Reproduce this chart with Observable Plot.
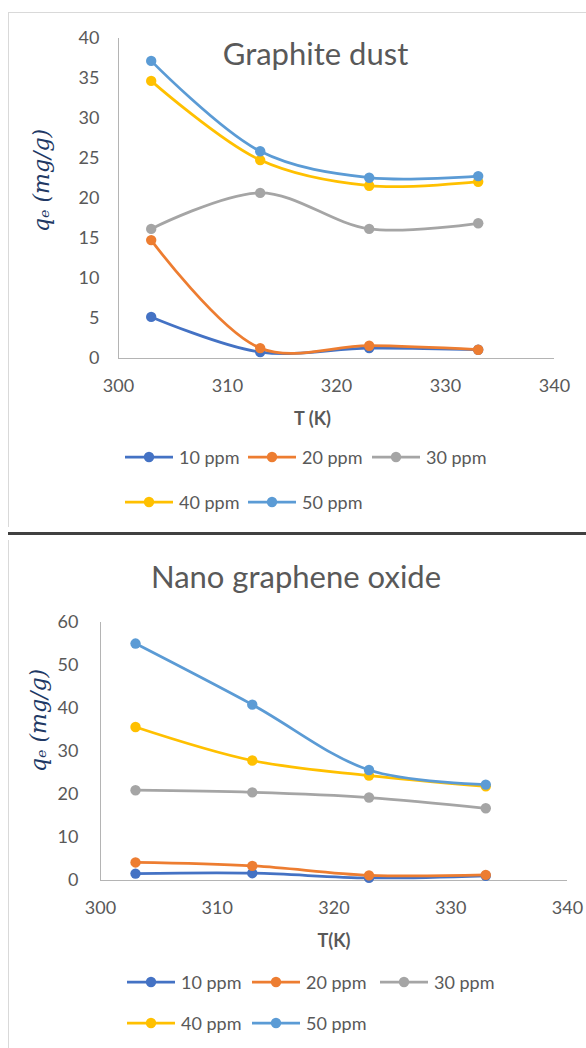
<!DOCTYPE html>
<html>
<head>
<meta charset="utf-8">
<script src="https://cdn.jsdelivr.net/npm/d3@7"></script>
<script src="https://cdn.jsdelivr.net/npm/@observablehq/plot@0.6"></script>
<style>
  html, body { margin: 0; padding: 0; background: #fff; }
  #page { position: relative; width: 586px; height: 1048px; overflow: hidden; background: #fff; font-family: Lato, "Open Sans", sans-serif; }
  .abs { position: absolute; }
  .legend-row { position: absolute; height: 24px; }
  .legend-item { position: absolute; top: 0; height: 24px; display: flex; align-items: center; white-space: nowrap; }
  .legend-item span { font-size: 18px; color: #595959; margin-left: 6px; }
</style>
</head>
<body>
<div id="page"></div>
<script>
// ---------------- data ----------------
const temps = [303, 313, 323, 333];
const seriesNames = ["10 ppm", "20 ppm", "30 ppm", "40 ppm", "50 ppm"];
const seriesColors = ["#4472C4", "#ED7D31", "#A5A5A5", "#FFC000", "#5B9BD5"];
const xTicks = [300, 310, 320, 330, 340];

// Graphite dust, q_e (mg/g)
const graphite10 = [5.2, 0.8, 1.3, 1.1];
const graphite20 = [14.8, 1.3, 1.6, 1.1];
const graphite30 = [16.2, 20.7, 16.2, 16.9];
const graphite40 = [34.7, 24.8, 21.6, 22.1];
const graphite50 = [37.2, 25.9, 22.6, 22.8];
const graphiteYTicks = [0, 5, 10, 15, 20, 25, 30, 35, 40];

// Nano graphene oxide, q_e (mg/g)
const nano10 = [1.6, 1.7, 0.6, 1.1];
const nano20 = [4.2, 3.4, 1.2, 1.3];
const nano30 = [21.0, 20.5, 19.3, 16.8];
const nano40 = [35.7, 27.9, 24.4, 21.9];
const nano50 = [55.1, 40.9, 25.7, 22.3];
const nanoYTicks = [0, 10, 20, 30, 40, 50, 60];

// ---------------- helpers ----------------
function toRows(seriesValues) {
  const rows = [];
  seriesValues.forEach((vals, si) => {
    vals.forEach((q, i) => rows.push({T: temps[i], q, series: seriesNames[si]}));
  });
  return rows;
}

const page = document.getElementById("page");
const AXIS = "#b4b4b4";
const TXT = "#595959";

function makeChart(cfg) {
  const rows = toRows(cfg.series);
  const marks = [
    Plot.ruleX([300], {stroke: AXIS, strokeWidth: 1}),
    Plot.ruleY([0], {stroke: AXIS, strokeWidth: 1}),
    Plot.axisX({ticks: xTicks, tickSize: 0, tickPadding: 21, fontSize: 18, color: TXT, label: null, tickFormat: d => String(d)}),
    Plot.axisY({ticks: cfg.yTicks, tickSize: 0, tickPadding: cfg.yPad, fontSize: 18, color: TXT, label: null, tickFormat: d => String(d)})
  ];
  seriesNames.forEach(name => {
    const sub = rows.filter(r => r.series === name);
    marks.push(Plot.line(sub, {x: "T", y: "q", stroke: "series", strokeWidth: 2.75, curve: "catmull-rom"}));
    marks.push(Plot.dot(sub, {x: "T", y: "q", fill: "series", r: 5.2}));
  });
  marks.push(Plot.text([cfg.title], {text: d => d, frameAnchor: "top", textAnchor: "middle", dx: cfg.titleDx, dy: cfg.titleDy, fontSize: 31, fill: TXT, lineAnchor: "middle"}));
  marks.push(Plot.text([cfg.xTitle], {text: d => d, frameAnchor: "bottom", textAnchor: "middle", dx: cfg.xTitleDx, dy: cfg.xTitleDy, fontSize: 18, fontWeight: "bold", fill: TXT, lineAnchor: "middle"}));
  marks.push(Plot.text(["q\u2091 (mg/g)"], {text: d => d, frameAnchor: "left", textAnchor: "middle", dx: cfg.yTitleDx, dy: cfg.yTitleDy, rotate: -90, fontSize: 22, fontStyle: "italic", fontFamily: "DejaVu Serif", fill: "#203864", lineAnchor: "middle"}));

  const svg = Plot.plot({
    width: cfg.width,
    height: cfg.height,
    marginTop: cfg.mt,
    marginBottom: cfg.mb,
    marginLeft: cfg.ml,
    marginRight: cfg.mr,
    x: {domain: [300, 340]},
    y: {domain: [0, cfg.yMax]},
    color: {domain: seriesNames, range: seriesColors},
    style: {fontFamily: "Lato, 'Open Sans', sans-serif", background: "transparent", overflow: "visible"},
    marks
  });
  const holder = document.createElement("div");
  holder.className = "abs";
  holder.style.left = "0px";
  holder.style.top = cfg.top + "px";
  holder.appendChild(svg);
  page.appendChild(holder);
}

function makeLegend(rowsLayout) {
  rowsLayout.forEach(row => {
    const r = document.createElement("div");
    r.className = "legend-row";
    r.style.top = (row.cy - 12) + "px";
    r.style.left = "0px";
    r.style.width = "586px";
    row.items.forEach(([idx, left]) => {
      const item = document.createElement("div");
      item.className = "legend-item";
      item.style.left = left + "px";
      const c = seriesColors[idx];
      item.innerHTML =
        `<svg width="48" height="14"><line x1="0" y1="7" x2="48" y2="7" stroke="${c}" stroke-width="2.75"/><circle cx="24" cy="7" r="5.2" fill="${c}"/></svg>` +
        `<span>${seriesNames[idx]}</span>`;
      r.appendChild(item);
    });
    page.appendChild(r);
  });
}

function addBox(style) {
  const d = document.createElement("div");
  d.className = "abs";
  Object.assign(d.style, style);
  page.appendChild(d);
}

// ---------------- frames ----------------
addBox({left: "8px", top: "12px", width: "600px", height: "514px", borderTop: "1px solid #d9d9d9", borderLeft: "1px solid #d9d9d9"});
addBox({left: "8px", top: "532px", width: "590px", height: "3px", background: "#404040"});
addBox({left: "8px", top: "540px", width: "1px", height: "520px", background: "#d9d9d9"});

// ---------------- charts ----------------
makeChart({
  top: 0, width: 586, height: 440, mt: 38, mb: 82, ml: 118, mr: 32,
  yMax: 40, yTicks: graphiteYTicks, yPad: 19,
  series: [graphite10, graphite20, graphite30, graphite40, graphite50],
  title: "Graphite dust", titleDx: -21, titleDy: 17,
  xTitle: "T (K)", xTitleDx: -24, xTitleDy: 61,
  yTitleDx: -77, yTitleDy: -18
});
makeLegend([
  {cy: 457, items: [[0, 125], [1, 248], [2, 372]]},
  {cy: 502, items: [[3, 125], [4, 248]]}
]);

makeChart({
  top: 540, width: 586, height: 420, mt: 82, mb: 80, ml: 100, mr: 19,
  yMax: 60, yTicks: nanoYTicks, yPad: 22,
  series: [nano10, nano20, nano30, nano40, nano50],
  title: "Nano graphene oxide", titleDx: -38, titleDy: -44,
  xTitle: "T(K)", xTitleDx: 0, xTitleDy: 61,
  yTitleDx: -62, yTitleDy: -31
});
makeLegend([
  {cy: 982, items: [[0, 127], [1, 252], [2, 380]]},
  {cy: 1023, items: [[3, 127], [4, 252]]}
]);
</script>
</body>
</html>
